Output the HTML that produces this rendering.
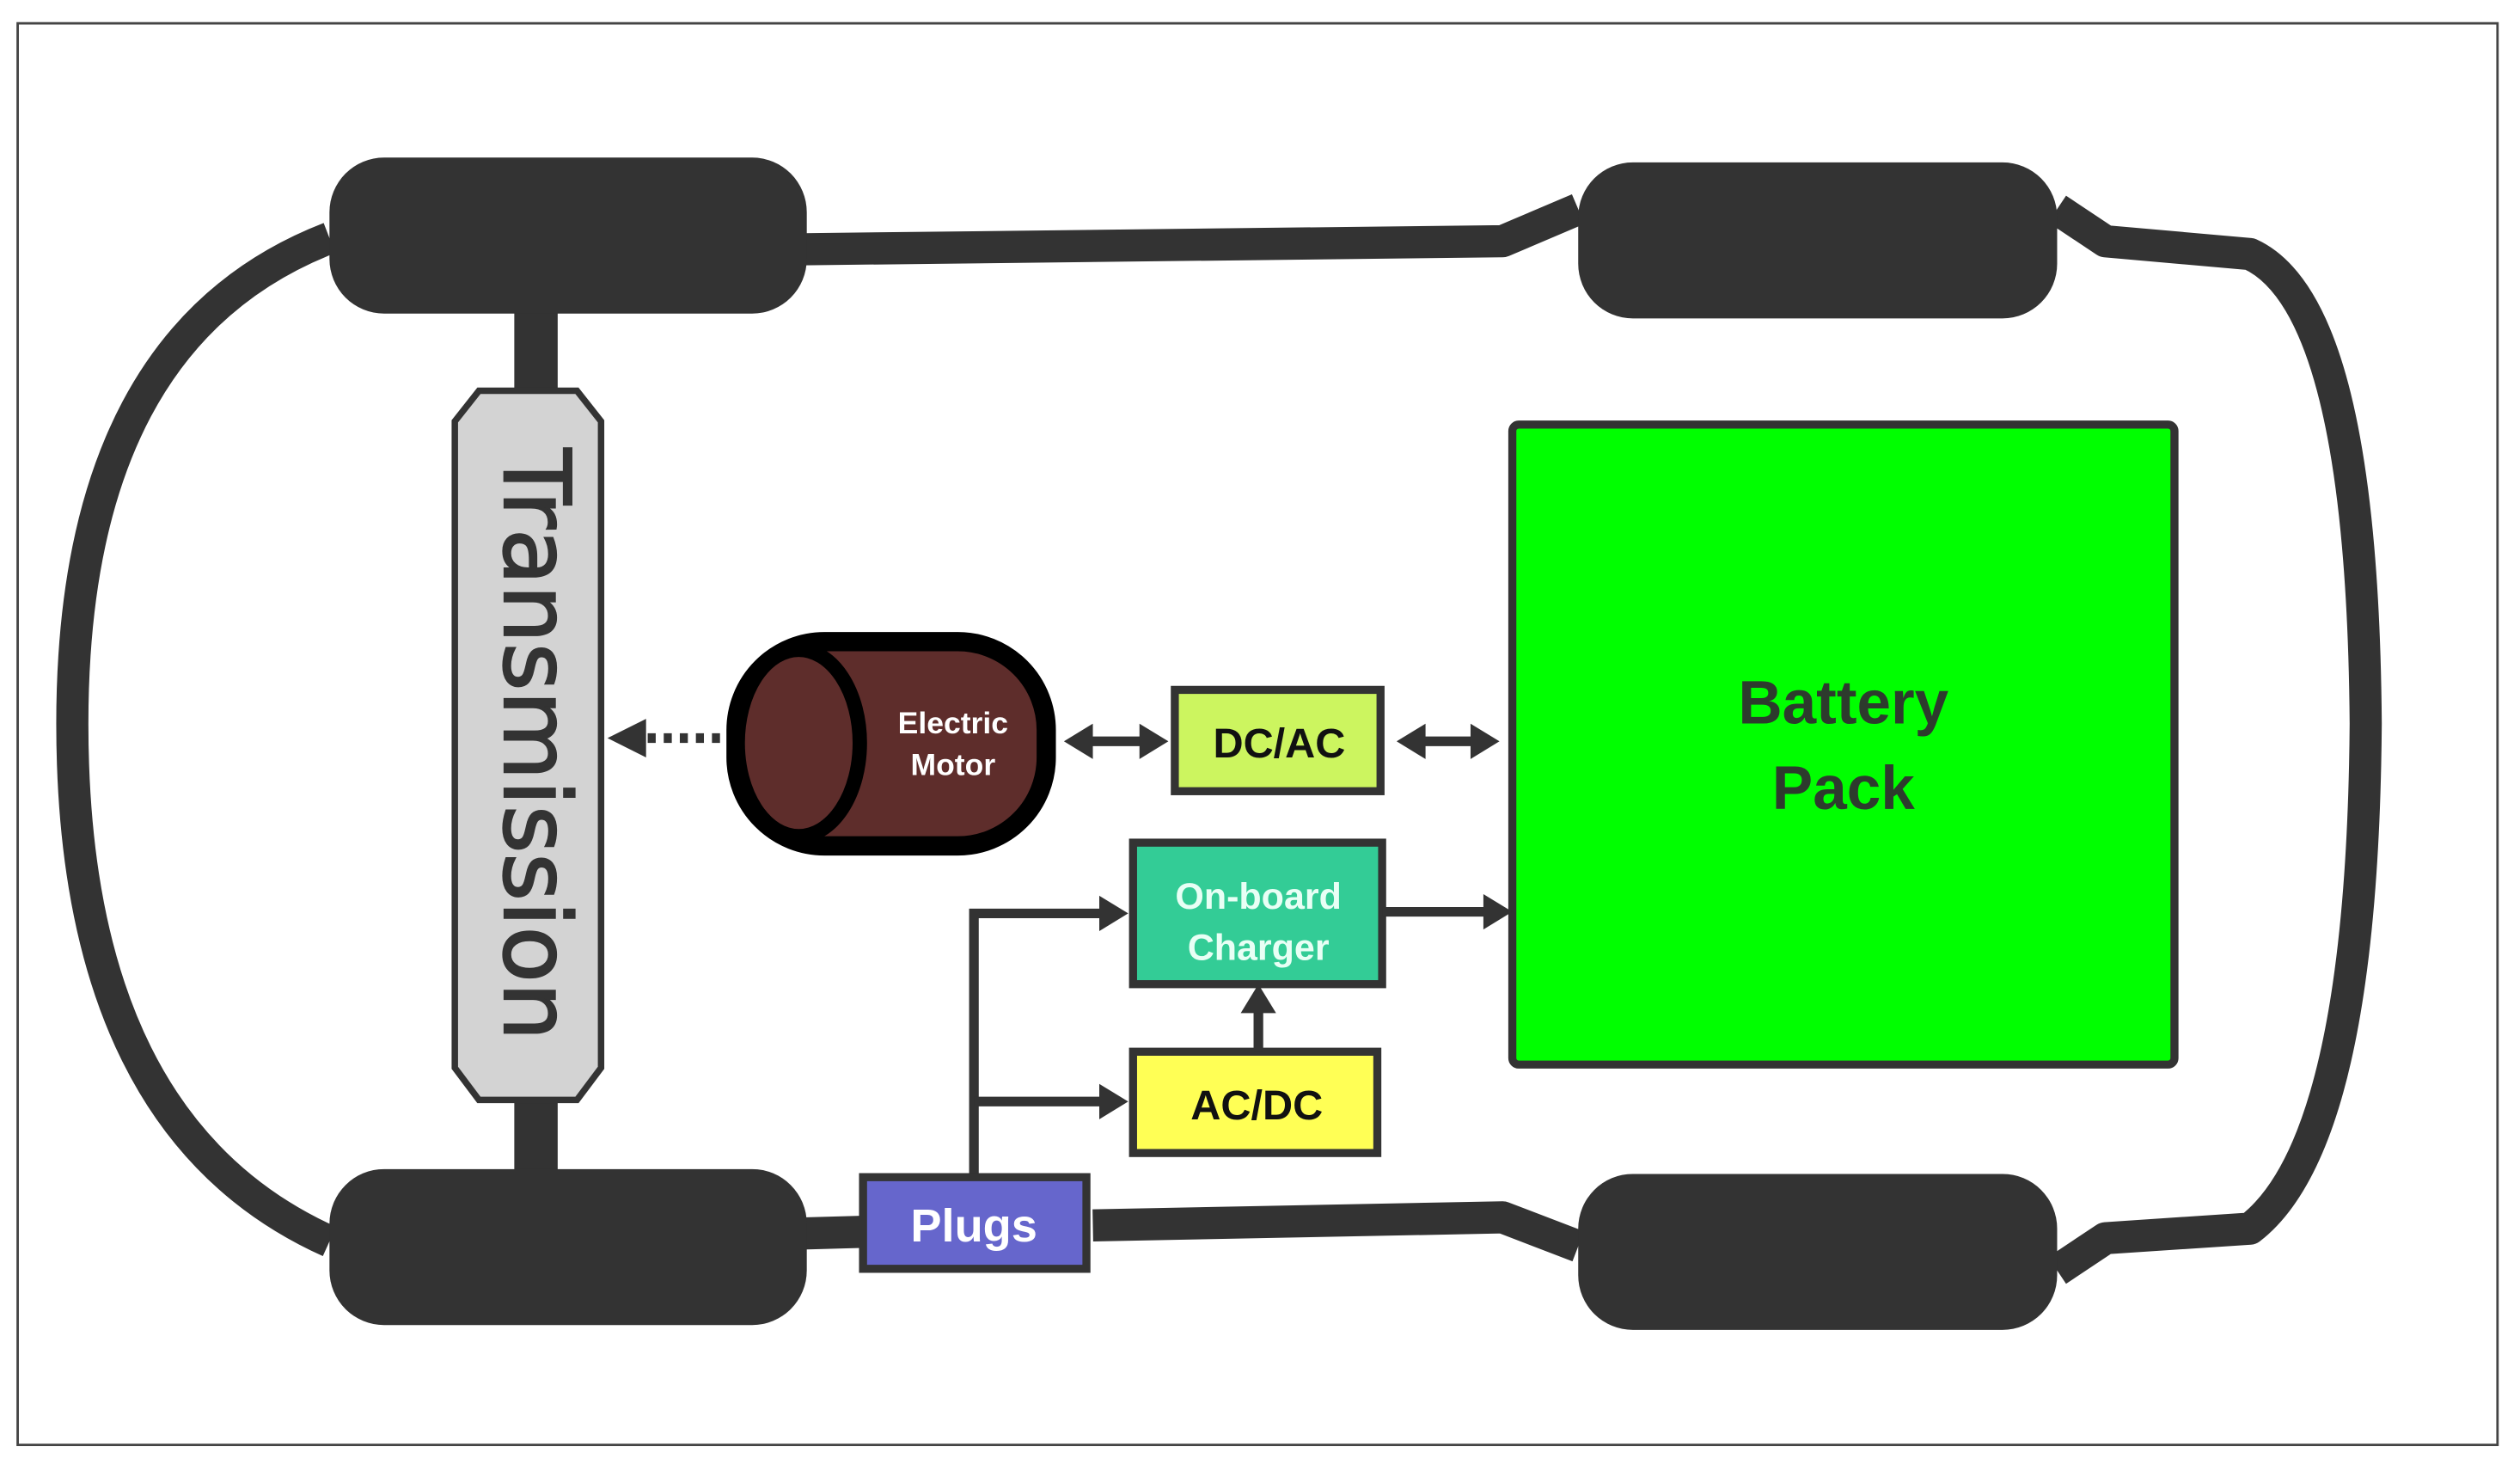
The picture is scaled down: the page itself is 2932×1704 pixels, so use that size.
<!DOCTYPE html>
<html><head><style>html,body{margin:0;padding:0;background:#fff}svg{display:block}</style></head>
<body>
<svg width="2932" height="1704" viewBox="0 0 1568 911" preserveAspectRatio="none" xmlns="http://www.w3.org/2000/svg" font-family="'Liberation Sans', sans-serif">
<rect x="0" y="0" width="1568" height="911" fill="#fff"/>
<rect x="11" y="14.5" width="1543" height="884" fill="none" stroke="#444" stroke-width="1.5"/>
<g fill="none" stroke="#333" stroke-width="20" stroke-linejoin="round">
<path d="M500,155 L935,150 L982,130"/>
<path d="M1280,130 L1310,150 L1400,158 Q1470,190 1472,450 Q1470,710 1400,764 L1310,770 L1280,790"/>
<path d="M982,775 L935,757 L680,762"/>
<path d="M500,767 L536,766"/>
<path d="M205,148 Q45,210 45,450 Q45,700 205,772"/>
</g>
<rect x="320" y="190" width="27" height="540" fill="#333"/>
<rect x="205" y="98" width="297" height="97" rx="34" fill="#333"/>
<rect x="982" y="101" width="298" height="97" rx="34" fill="#333"/>
<rect x="205" y="727" width="297" height="97" rx="34" fill="#333"/>
<rect x="982" y="730" width="298" height="97" rx="34" fill="#333"/>
<polygon points="298,243 359,243 374,262 374,664 359,684 298,684 283,664 283,262" fill="#d3d3d3" stroke="#333" stroke-width="4"/>
<text transform="translate(314,463) rotate(90)" text-anchor="middle" font-size="57" font-family="'DejaVu Sans', sans-serif" fill="#333" stroke="#333" stroke-width="1.2">Transmission</text>
<rect x="458" y="399" width="193" height="127" rx="55" fill="#5e2d2b" stroke="#000" stroke-width="12"/>
<ellipse cx="497" cy="462" rx="38" ry="58" fill="#5e2d2b" stroke="#000" stroke-width="9"/>
<text x="593" y="456" text-anchor="middle" font-size="19" font-weight="bold" fill="#fff">Electric</text>
<text x="593" y="482" text-anchor="middle" font-size="19" font-weight="bold" fill="#fff">Motor</text>
<line x1="448" y1="459" x2="400" y2="459" stroke="#333" stroke-width="6" stroke-dasharray="5,5"/>
<polygon points="378,459 402,447 402,471" fill="#333"/>
<line x1="672" y1="461" x2="718" y2="461" stroke="#333" stroke-width="6"/>
<polygon points="662,461 680,450 680,472" fill="#333"/><polygon points="727,461 709,450 709,472" fill="#333"/>
<rect x="731" y="429" width="128" height="63" fill="#ccf55f" stroke="#333" stroke-width="5"/>
<text x="796" y="471" text-anchor="middle" font-size="26" font-weight="bold" fill="#111">DC/AC</text>
<line x1="878" y1="461" x2="924" y2="461" stroke="#333" stroke-width="6"/>
<polygon points="869,461 887,450 887,472" fill="#333"/><polygon points="933,461 915,450 915,472" fill="#333"/>
<rect x="941" y="264" width="412" height="398" rx="4" fill="#00ff00" stroke="#333" stroke-width="5"/>
<text x="1147" y="450" text-anchor="middle" font-size="38" font-weight="bold" fill="#2d3b2d">Battery</text>
<text x="1147" y="503" text-anchor="middle" font-size="38" font-weight="bold" fill="#2d3b2d">Pack</text>
<rect x="705" y="524" width="155" height="88" fill="#33cc96" stroke="#333" stroke-width="5"/>
<text x="783" y="565" text-anchor="middle" font-size="23" font-weight="bold" fill="#e8fff5">On-board</text>
<text x="783" y="597" text-anchor="middle" font-size="23" font-weight="bold" fill="#e8fff5">Charger</text>
<line x1="860" y1="567" x2="928" y2="567" stroke="#333" stroke-width="6"/>
<polygon points="941,567 923,556 923,578" fill="#333"/>
<rect x="705" y="654" width="152" height="63" fill="#ffff55" stroke="#333" stroke-width="5"/>
<text x="782" y="696" text-anchor="middle" font-size="26" font-weight="bold" fill="#111">AC/DC</text>
<line x1="783" y1="654" x2="783" y2="625" stroke="#333" stroke-width="6"/>
<polygon points="783,612 772,630 794,630" fill="#333"/>
<polyline points="606,732 606,568 688,568" fill="none" stroke="#333" stroke-width="6"/>
<polygon points="702,568 684,557 684,579" fill="#333"/>
<line x1="606" y1="685" x2="688" y2="685" stroke="#333" stroke-width="6"/>
<polygon points="702,685 684,674 684,696" fill="#333"/>
<rect x="537" y="732" width="139" height="57" fill="#6666cc" stroke="#333" stroke-width="5"/>
<text x="606" y="772" text-anchor="middle" font-size="29" font-weight="bold" fill="#fff">Plugs</text>
</svg>
</body></html>
